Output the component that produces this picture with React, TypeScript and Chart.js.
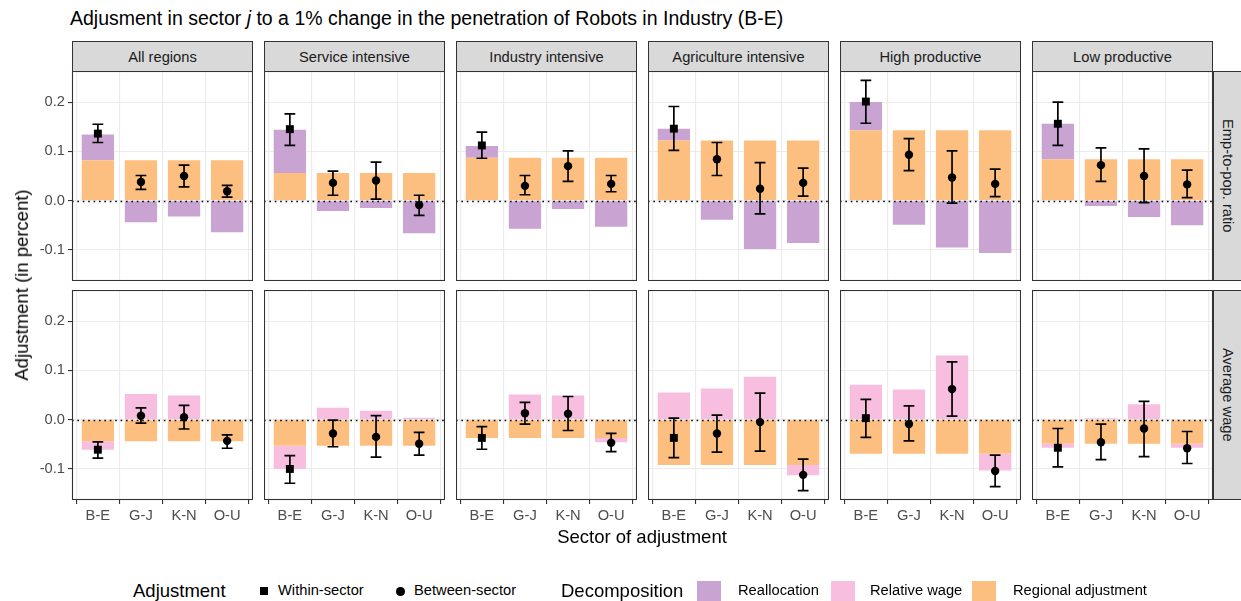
import React, { useEffect, useRef } from 'react';
import { Chart, registerables } from 'chart.js';
Chart.register(...registerables);

const FONT = '"Liberation Sans", Arial, Helvetica, sans-serif';

// ---------------- data ----------------
const sectors = ['B-E', 'G-J', 'K-N', 'O-U'];
const regionNames = ['All regions', 'Service intensive', 'Industry intensive', 'Agriculture intensive', 'High productive', 'Low productive'];
const outcomeNames = ['Emp-to-pop. ratio', 'Average wage'];
const yTicks = [-0.1, 0, 0.1, 0.2];

// Emp-to-pop. ratio
const empRegional = [
  [0.082, 0.082, 0.082, 0.082],
  [0.056, 0.056, 0.056, 0.056],
  [0.087, 0.087, 0.087, 0.087],
  [0.122, 0.122, 0.122, 0.122],
  [0.143, 0.143, 0.143, 0.143],
  [0.084, 0.084, 0.084, 0.084],
];
const empReallocation = [
  [0.052, -0.044, -0.032, -0.064],
  [0.088, -0.021, -0.015, -0.066],
  [0.024, -0.057, -0.017, -0.053],
  [0.024, -0.039, -0.098, -0.086],
  [0.057, -0.049, -0.095, -0.106],
  [0.072, -0.011, -0.033, -0.050],
];
const empEstimate = [
  [0.136, 0.038, 0.050, 0.019],
  [0.145, 0.036, 0.041, -0.009],
  [0.112, 0.030, 0.070, 0.034],
  [0.146, 0.084, 0.024, 0.036],
  [0.201, 0.093, 0.047, 0.034],
  [0.156, 0.072, 0.050, 0.033],
];
const empLower = [
  [0.118, 0.023, 0.028, 0.007],
  [0.112, 0.011, 0.003, -0.030],
  [0.086, 0.012, 0.039, 0.018],
  [0.102, 0.051, -0.027, 0.009],
  [0.157, 0.061, -0.005, 0.008],
  [0.112, 0.039, -0.004, 0.006],
];
const empUpper = [
  [0.155, 0.051, 0.072, 0.031],
  [0.176, 0.060, 0.078, 0.011],
  [0.139, 0.051, 0.101, 0.051],
  [0.191, 0.118, 0.077, 0.066],
  [0.244, 0.126, 0.101, 0.064],
  [0.200, 0.107, 0.105, 0.062],
];

// Average wage
const wageRegional = [
  [-0.044, -0.044, -0.044, -0.044],
  [-0.053, -0.053, -0.053, -0.053],
  [-0.037, -0.037, -0.037, -0.037],
  [-0.092, -0.092, -0.092, -0.092],
  [-0.069, -0.069, -0.069, -0.069],
  [-0.049, -0.049, -0.049, -0.049],
];
const wageRelative = [
  [-0.017, 0.052, 0.049, 0.0],
  [-0.047, 0.024, 0.018, 0.004],
  [0.0, 0.051, 0.049, -0.009],
  [0.055, 0.063, 0.087, -0.021],
  [0.071, 0.061, 0.130, -0.034],
  [-0.008, 0.003, 0.031, -0.008],
];
const wageEstimate = [
  [-0.061, 0.008, 0.005, -0.043],
  [-0.100, -0.028, -0.035, -0.049],
  [-0.037, 0.013, 0.012, -0.047],
  [-0.037, -0.028, -0.005, -0.112],
  [0.003, -0.009, 0.062, -0.104],
  [-0.057, -0.046, -0.018, -0.058],
];
const wageLower = [
  [-0.078, -0.007, -0.019, -0.058],
  [-0.129, -0.055, -0.076, -0.072],
  [-0.060, -0.009, -0.022, -0.065],
  [-0.077, -0.066, -0.064, -0.144],
  [-0.036, -0.043, 0.007, -0.136],
  [-0.096, -0.081, -0.075, -0.089],
];
const wageUpper = [
  [-0.045, 0.024, 0.029, -0.031],
  [-0.073, -0.001, 0.008, -0.026],
  [-0.014, 0.035, 0.047, -0.028],
  [0.003, 0.009, 0.054, -0.080],
  [0.041, 0.028, 0.117, -0.072],
  [-0.018, -0.009, 0.037, -0.024],
];

// ---------------- styling / layout ----------------
const COL_REGIONAL = '#FDBF80';
const COL_REALLOC = '#C9A3D1';
const COL_RELWAGE = '#F8BEDF';

const PANEL_LEFT = [72, 264, 456, 648, 840, 1032];
const PANEL_W = 181;
const ROW_TOP = [71, 290];
const PANEL_H = 210;
const Y_AXIS_W = 72;
const X_AXIS_H = 30;
const Y_MIN = -0.163;
const Y_MAX = 0.263;

function Panel({ row, col }: { row: number; col: number }) {
  const ref = useRef<HTMLCanvasElement>(null);
  const isLeft = col === 0;
  const isBottom = row === 1;
  const left = isLeft ? PANEL_LEFT[col] - Y_AXIS_W : PANEL_LEFT[col];
  const width = PANEL_W + (isLeft ? Y_AXIS_W : 0);
  const top = ROW_TOP[row];
  const height = PANEL_H + (isBottom ? X_AXIS_H : 0);

  useEffect(() => {
    const regional = row === 0 ? empRegional[col] : wageRegional[col];
    const decomp = row === 0 ? empReallocation[col] : wageRelative[col];
    const est = row === 0 ? empEstimate[col] : wageEstimate[col];
    const lo = row === 0 ? empLower[col] : wageLower[col];
    const hi = row === 0 ? empUpper[col] : wageUpper[col];
    const decompColor = row === 0 ? COL_REALLOC : COL_RELWAGE;

    const decor = {
      id: 'decor' + row + col,
      afterDatasetsDraw(chart: any) {
        const { ctx, chartArea: a, scales } = chart;
        const xs = scales.x;
        const ys = scales.y;
        ctx.save();
        // zero reference line (dotted)
        const y0 = Math.round(ys.getPixelForValue(0)) + 0.5;
        ctx.beginPath();
        ctx.setLineDash([1.6, 3.8]);
        ctx.lineWidth = 1.6;
        ctx.strokeStyle = '#000';
        ctx.moveTo(a.left, y0);
        ctx.lineTo(a.right, y0);
        ctx.stroke();
        ctx.setLineDash([]);
        // error bars
        ctx.lineWidth = 1.7;
        ctx.strokeStyle = '#000';
        for (let i = 0; i < sectors.length; i++) {
          const x = xs.getPixelForValue(i + 1);
          const hw = xs.getPixelForValue(i + 1 + 0.125) - x;
          const yl = ys.getPixelForValue(lo[i]);
          const yh = ys.getPixelForValue(hi[i]);
          ctx.beginPath();
          ctx.moveTo(x, yl);
          ctx.lineTo(x, yh);
          ctx.moveTo(x - hw, yl);
          ctx.lineTo(x + hw, yl);
          ctx.moveTo(x - hw, yh);
          ctx.lineTo(x + hw, yh);
          ctx.stroke();
        }
        // panel border
        ctx.strokeStyle = '#333333';
        ctx.lineWidth = 1.1;
        ctx.strokeRect(a.left + 0.5, a.top + 0.5, a.right - a.left - 1, a.bottom - a.top - 1);
        ctx.restore();
      },
    };

    const chart = new Chart(ref.current as HTMLCanvasElement, {
      type: 'bar',
      data: {
        datasets: [
          {
            type: 'line',
            label: 'Estimate',
            data: sectors.map((_, i) => ({ x: i + 1, y: est[i] })),
            showLine: false,
            pointStyle: sectors.map((_, i) => (i === 0 ? 'rect' : 'circle')),
            pointRadius: sectors.map((_, i) => (i === 0 ? 5.6 : 4.2)),
            pointBackgroundColor: '#000',
            pointBorderColor: '#000',
            pointBorderWidth: 0,
            stack: 'pts',
            order: 0,
            clip: false,
          } as any,
          {
            type: 'bar',
            label: 'Regional adjustment',
            data: sectors.map((_, i) => ({ x: i + 1, y: regional[i] })),
            backgroundColor: COL_REGIONAL,
            borderWidth: 0,
            stack: 'bars',
            order: 1,
            categoryPercentage: 0.75,
            barPercentage: 1,
          } as any,
          {
            type: 'bar',
            label: row === 0 ? 'Reallocation' : 'Relative wage',
            data: sectors.map((_, i) => ({ x: i + 1, y: decomp[i] })),
            backgroundColor: decompColor,
            borderWidth: 0,
            stack: 'bars',
            order: 1,
            categoryPercentage: 0.75,
            barPercentage: 1,
          } as any,
        ],
      },
      options: {
        responsive: false,
        animation: false,
        layout: { padding: 0, autoPadding: false },
        plugins: { legend: { display: false }, tooltip: { enabled: false }, title: { display: false } },
        scales: {
          x: {
            type: 'linear',
            min: 0.4,
            max: 4.6,
            offset: false,
            afterBuildTicks: (s: any) => {
              s.ticks = sectors.map((_, i) => ({ value: i + 1 }));
            },
            afterFit: (s: any) => {
              s.height = isBottom ? X_AXIS_H : 0;
              s.paddingLeft = 0;
              s.paddingRight = 0;
              s.paddingTop = 0;
              s.paddingBottom = 0;
            },
            ticks: {
              display: isBottom,
              autoSkip: false,
              maxRotation: 0,
              padding: 3,
              color: '#4D4D4D',
              font: { family: FONT, size: 14.7 },
              callback: (v: any) => sectors[Math.round(Number(v)) - 1] ?? '',
            },
            grid: {
              color: '#EBEBEB',
              lineWidth: 1.1,
              drawTicks: isBottom,
              tickLength: 4,
              tickColor: '#333333',
              tickWidth: 1.1,
            },
            border: { display: false },
          } as any,
          y: {
            type: 'linear',
            stacked: true,
            min: Y_MIN,
            max: Y_MAX,
            afterBuildTicks: (s: any) => {
              s.ticks = yTicks.map((v) => ({ value: v }));
            },
            afterFit: (s: any) => {
              s.width = isLeft ? Y_AXIS_W : 0;
              s.paddingLeft = 0;
              s.paddingRight = 0;
              s.paddingTop = 0;
              s.paddingBottom = 0;
            },
            ticks: {
              display: isLeft,
              padding: 3,
              color: '#4D4D4D',
              font: { family: FONT, size: 14.7 },
              callback: (v: any) => Number(v).toFixed(1),
            },
            grid: {
              color: '#EBEBEB',
              lineWidth: 1.1,
              drawTicks: isLeft,
              tickLength: 4,
              tickColor: '#333333',
              tickWidth: 1.1,
            },
            border: { display: false },
          } as any,
        },
      },
      plugins: [decor],
    } as any);
    return () => chart.destroy();
  }, [row, col]);

  return (
    <canvas
      ref={ref}
      width={width}
      height={height}
      style={{ position: 'absolute', left, top, width, height }}
    />
  );
}

function Txt({ x, y, size, children, anchor = 'left', color = '#000', rotate = 0 }: any) {
  const tx = anchor === 'center' ? '-50%' : '0';
  return (
    <div
      style={{
        position: 'absolute',
        left: x,
        top: y,
        transform: `translate(${tx}, -50%)` + (rotate ? ` rotate(${rotate}deg)` : ''),
        transformOrigin: anchor === 'center' ? '50% 50%' : '0 50%',
        fontFamily: FONT,
        fontSize: size,
        color,
        whiteSpace: 'nowrap',
        lineHeight: 1.2,
      }}
    >
      {children}
    </div>
  );
}

export default function App() {
  const panels: any[] = [];
  for (let r = 0; r < 2; r++) for (let c = 0; c < 6; c++) panels.push(<Panel key={`${r}-${c}`} row={r} col={c} />);

  const stripStyle: any = {
    position: 'absolute',
    boxSizing: 'border-box',
    background: '#D9D9D9',
    border: '1px solid #333333',
    fontFamily: FONT,
    fontSize: 14.7,
    color: '#1A1A1A',
    display: 'flex',
    alignItems: 'center',
    justifyContent: 'center',
    whiteSpace: 'nowrap',
  };

  const legendKey = (x: number, color: string) => (
    <div style={{ position: 'absolute', left: x, top: 581, width: 24, height: 20, background: color }} />
  );

  return (
    <div style={{ position: 'absolute', left: 0, top: 0, width: 1241, height: 601, background: '#fff', overflow: 'hidden' }}>
      <Txt x={70} y={19} size={19.5}>
        Adjusment in sector <i>j</i> to a 1% change in the penetration of Robots in Industry (B-E)
      </Txt>

      {regionNames.map((name, c) => (
        <div key={name} style={{ ...stripStyle, left: PANEL_LEFT[c], top: 41, width: PANEL_W, height: 31 }}>
          {name}
        </div>
      ))}
      {outcomeNames.map((name, r) => (
        <div
          key={name}
          style={{ ...stripStyle, left: 1213, top: ROW_TOP[r], width: 29, height: PANEL_H, writingMode: 'vertical-rl' }}
        >
          {name}
        </div>
      ))}

      {panels}

      <Txt x={642} y={537} size={18.5} anchor="center">Sector of adjustment</Txt>
      <Txt x={22} y={285} size={18.5} anchor="center" rotate={-90}>Adjustment (in percent)</Txt>

      {/* legend */}
      <Txt x={133} y={591} size={18.5}>Adjustment</Txt>
      <div style={{ position: 'absolute', left: 260, top: 587, width: 8, height: 8, background: '#000' }} />
      <Txt x={278} y={591} size={14.7}>Within-sector</Txt>
      <div style={{ position: 'absolute', left: 396, top: 587, width: 8.5, height: 8.5, background: '#000', borderRadius: '50%' }} />
      <Txt x={414} y={591} size={14.7}>Between-sector</Txt>

      <Txt x={561} y={591} size={18.5}>Decomposition</Txt>
      {legendKey(697, COL_REALLOC)}
      <Txt x={738} y={591} size={14.7}>Reallocation</Txt>
      {legendKey(831, COL_RELWAGE)}
      <Txt x={870} y={591} size={14.7}>Relative wage</Txt>
      {legendKey(972, COL_REGIONAL)}
      <Txt x={1013} y={591} size={14.7}>Regional adjustment</Txt>
    </div>
  );
}
